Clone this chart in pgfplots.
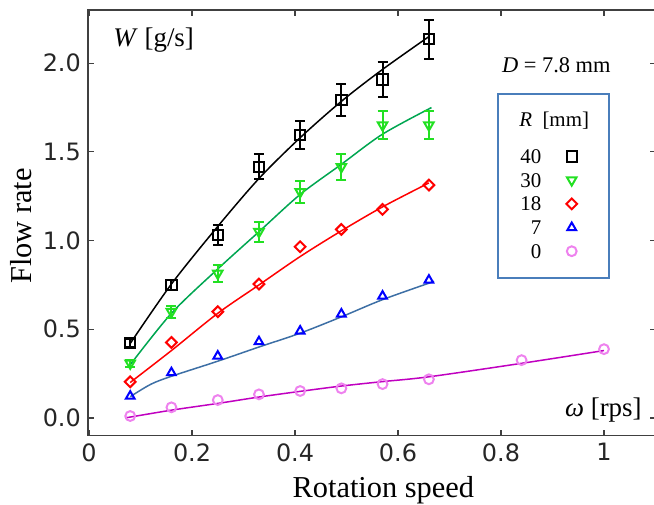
\documentclass[border=0pt]{standalone}
\usepackage{fontspec}
\setmainfont{Liberation Serif}
\newfontfamily\dejavu{DejaVu Sans}
\usepackage{pgfplots}
\pgfplotsset{compat=1.18}
\definecolor{axc}{HTML}{404040}
\definecolor{mgreen}{HTML}{22E022}
\definecolor{cgreen}{HTML}{00A651}
\definecolor{cblue}{HTML}{3D6FA5}
\definecolor{mviolet}{HTML}{EE82EE}
\definecolor{cmag}{HTML}{C000C0}
\definecolor{lframe}{HTML}{4A7EBB}
\begin{document}
\begin{tikzpicture}
\begin{axis}[name=ax, scale only axis, width=568bp, height=425.7bp,
  xmin=-0.002, xmax=1.101, ymin=-0.1, ymax=2.3,
  xtick={0,0.2,0.4,0.6,0.8,1}, xticklabels={0,0.2,0.4,0.6,0.8,1},
  ytick={0,0.5,1,1.5,2}, yticklabels={0.0,0.5,1.0,1.5,2.0},
  tick align=inside, tick pos=both, xticklabel pos=lower, yticklabel pos=left,
  major tick length=6bp,
  axis line style={draw=axc, line width=1.5bp},
  major tick style={draw=axc, line width=1.2bp},
  /pgf/number format/assume math mode=true,
  ticklabel style={font=\dejavu\fontsize{24}{28}\selectfont, text=black!85, inner sep=0pt},
  xticklabel style={anchor=north, yshift=-7.6bp},
  yticklabel style={anchor=east, xshift=-7bp},
  xlabel={Rotation speed}, ylabel={Flow rate},
  xlabel style={at={(axis description cs:0.520,-0.144)}, anchor=base, font=\fontsize{30.5}{34}\selectfont, inner sep=0pt},
  ylabel style={at={(axis description cs:-0.0986,0.4926)}, anchor=base, font=\fontsize{30.5}{34}\selectfont, inner sep=0pt},
  legend style={at={(axis cs:0.9478,1.514)}, anchor=north east, draw=none, fill=none,
    inner sep=0pt, outer sep=0pt, row sep=9.7bp, column sep=25bp,
    font=\fontsize{21}{24}\selectfont, nodes={inner sep=0pt, text height=14bp, text depth=0pt}},
  legend cell align=right, legend plot pos=right,
]
% fitted curves
\addplot[black, line width=1.5bp, smooth, forget plot] coordinates {
(0.08,0.42) (0.16,0.755) (0.25,1.08) (0.33,1.35) (0.41,1.58) (0.49,1.785) (0.57,1.965) (0.66,2.15)};
\addplot[cgreen, line width=1.5bp, smooth, forget plot] coordinates {
(0.08,0.30) (0.16,0.59) (0.25,0.84) (0.33,1.05) (0.41,1.26) (0.49,1.43) (0.57,1.60) (0.665,1.75)};
\addplot[red, line width=1.5bp, smooth, forget plot] coordinates {
(0.08,0.20) (0.16,0.38) (0.25,0.59) (0.33,0.75) (0.41,0.91) (0.49,1.055) (0.57,1.19) (0.66,1.325)};
\addplot[cblue, line width=1.5bp, smooth, forget plot] coordinates {
(0.08,0.12) (0.12,0.19) (0.16,0.235) (0.25,0.32) (0.33,0.40) (0.41,0.478) (0.49,0.57) (0.57,0.667) (0.67,0.77)};
\addplot[cmag, line width=1.5bp, smooth, forget plot] coordinates {
(0.07,0.00) (0.16,0.044) (0.25,0.082) (0.33,0.118) (0.41,0.15) (0.49,0.18) (0.57,0.205) (0.66,0.232) (0.84,0.308) (1.0,0.38)};
% data
\addplot[black, only marks, mark=square, mark size=5.2bp, line width=2bp,
  error bars/.cd, y dir=both, y explicit, error bar style={line width=2bp, black},
  error mark options={rotate=90, mark size=5bp, line width=2bp, black}] coordinates {
(0.08,0.424) +- (0,0.023) (0.16,0.749) +- (0,0.028) (0.25,1.031) +- (0,0.056) (0.33,1.416) +- (0,0.07)
(0.41,1.595) +- (0,0.08) (0.49,1.792) +- (0,0.091) (0.57,1.909) +- (0,0.099) (0.66,2.136) +- (0,0.11)};
\addlegendentry{40}
\addplot[mgreen, only marks, mark=triangle, mark size=5.5bp, mark options={rotate=180}, line width=2bp,
  error bars/.cd, y dir=both, y explicit, error bar style={line width=2bp, mgreen},
  error mark options={rotate=90, mark size=5bp, line width=2bp, mgreen}] coordinates {
(0.08,0.308) +- (0,0.02) (0.16,0.599) +- (0,0.035) (0.25,0.815) +- (0,0.047) (0.33,1.05) +- (0,0.056)
(0.41,1.275) +- (0,0.063) (0.49,1.416) +- (0,0.072) (0.57,1.651) +- (0,0.08) (0.66,1.651) +- (0,0.08)};
\addlegendentry{30}
\addplot[red, only marks, mark=square, mark size=3.8bp, mark options={rotate=45}, line width=2bp] coordinates {
(0.08,0.204) (0.16,0.426) (0.25,0.599) (0.33,0.755) (0.41,0.965) (0.49,1.063) (0.57,1.176) (0.66,1.313)};
\addlegendentry{18}
\addplot[blue, only marks, mark=triangle, mark size=5bp, line width=2bp] coordinates {
(0.08,0.123) (0.16,0.255) (0.25,0.349) (0.33,0.43) (0.41,0.49) (0.49,0.586) (0.57,0.687) (0.66,0.777)};
\addlegendentry{7}
\addplot[mviolet, only marks, mark=o, mark size=4.9bp, line width=2bp] coordinates {
(0.08,0.011) (0.16,0.06) (0.25,0.101) (0.33,0.133) (0.41,0.152) (0.49,0.167) (0.57,0.191) (0.66,0.218) (0.84,0.326) (1.0,0.388)};
\addlegendentry{0}
% annotations
\node[anchor=base west, inner sep=0pt, font=\fontsize{27}{30}\selectfont] at (axis cs:0.047,2.092) {\textit{W} [g/s]};
\node[anchor=base west, inner sep=0pt, font=\fontsize{22.5}{26}\selectfont] at (axis cs:0.8016,1.946) {\textit{D} = 7.8 mm};
\node[anchor=base east, inner sep=0pt, font=\fontsize{27}{30}\selectfont] at (axis cs:1.0734,0.007) {\textit{ω} [rps]};
\node[anchor=base west, inner sep=0pt, font=\fontsize{21}{24}\selectfont] at (axis cs:0.8351,1.6415) {\textit{R}\ \ [mm]};
\draw[lframe, line width=1.5bp] (axis cs:0.7944,0.789) rectangle (axis cs:1.0099,1.826);
\end{axis}
\pgfresetboundingbox
\path[use as bounding box] (ax.south west) ++(-88bp,-69.3bp) rectangle ++(654bp,505bp);
\end{tikzpicture}
\end{document}
